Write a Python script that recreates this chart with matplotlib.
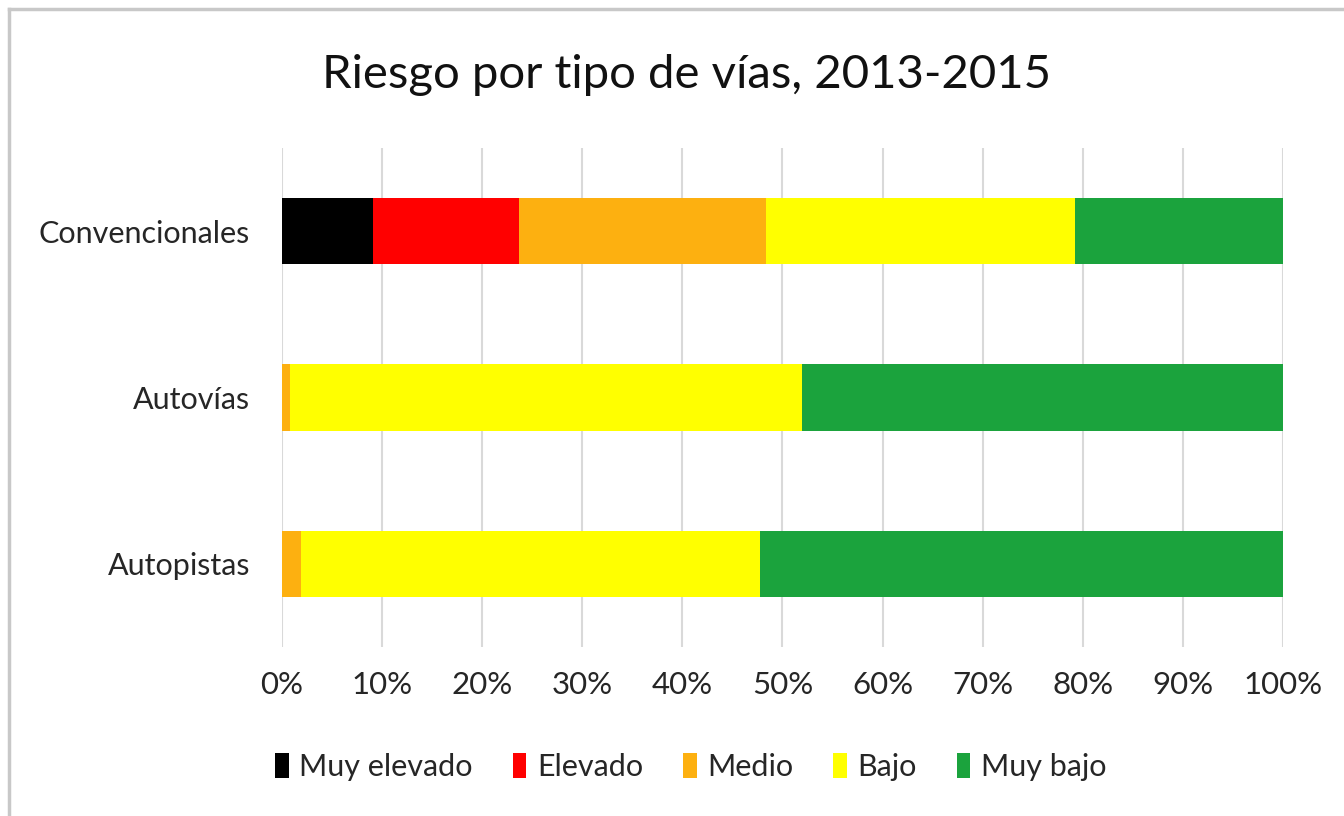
import matplotlib
matplotlib.use('Agg')
import matplotlib.pyplot as plt
import numpy as np
from matplotlib.lines import Line2D

plt.rcParams['font.family'] = ['Lato', 'DejaVu Sans']

# Data (% share of each risk level per road type)
categories = ["Convencionales", "Autovías", "Autopistas"]
levels = ["Muy elevado", "Elevado", "Medio", "Bajo", "Muy bajo"]
muy_elevado = [9.1, 0.0, 0.0]
elevado = [14.6, 0.0, 0.0]
medio = [24.7, 0.8, 1.9]
bajo = [30.8, 51.2, 45.9]
muy_bajo = [20.8, 48.0, 52.2]
series = [muy_elevado, elevado, medio, bajo, muy_bajo]
colors = ["#000000", "#FF0000", "#FDB010", "#FFFF00", "#1BA33D"]
xticks = list(range(0, 101, 10))

fig = plt.figure(figsize=(13.44, 8.16), dpi=100)
ax = fig.add_axes([0.2098, 0.2071, 0.7448, 0.6115])

y = np.arange(len(categories))
left = np.zeros(len(categories))
for name, vals, col in zip(levels, series, colors):
    ax.barh(y, vals, left=left, height=0.4, color=col, label=name, zorder=3)
    left += np.array(vals)

ax.set_xlim(0, 100)
ax.set_ylim(len(categories) - 0.5, -0.5)
ax.set_xticks(xticks)
ax.set_xticklabels([f"{t}%" for t in xticks])
ax.set_yticks(y)
ax.set_yticklabels(categories)
ax.tick_params(axis='x', length=0, labelsize=22.5, colors="#262626", pad=17)
ax.tick_params(axis='y', length=0, labelsize=22, colors="#262626", pad=23)
ax.grid(axis='x', color="#d9d9d9", linewidth=1.5, zorder=0)
for s in ax.spines.values():
    s.set_visible(False)

fig.suptitle("Riesgo por tipo de vías, 2013-2015", x=0.511, y=0.908, va='center',
             fontsize=34, color="#111111")

leg = fig.legend(loc='center', bbox_to_anchor=(0.514, 0.06), ncol=5, frameon=False,
                 fontsize=22, handlelength=0.45, handleheight=0.85,
                 handletextpad=0.35, columnspacing=1.3)
for t in leg.get_texts():
    t.set_color("#262626")

# chart border (top and left edges only visible)
fig.add_artist(Line2D([0.0067, 0.0067], [0, 0.989], color="#c8c8c8", linewidth=2.5))
fig.add_artist(Line2D([0.0067, 1], [0.989, 0.989], color="#c8c8c8", linewidth=2.5))

fig.savefig("out.png", dpi=100)
